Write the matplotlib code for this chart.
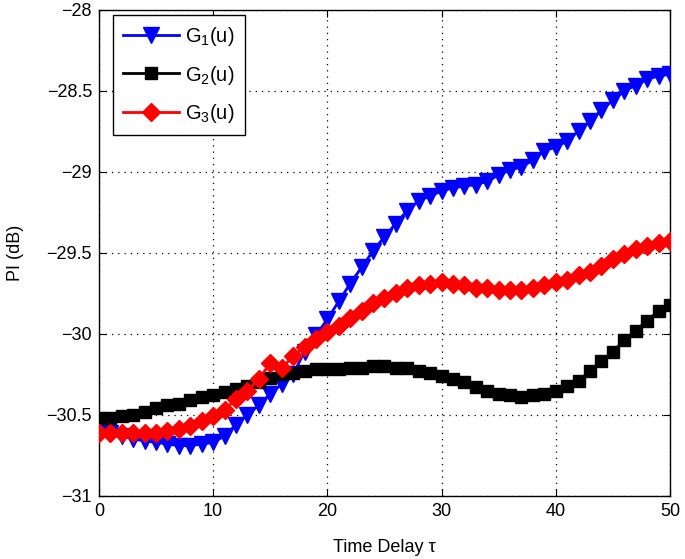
import matplotlib
matplotlib.use("Agg")
import matplotlib.pyplot as plt
import numpy as np

plt.rcParams['font.family'] = ['Liberation Sans', 'DejaVu Sans']
plt.rcParams['mathtext.fontset'] = 'custom'
plt.rcParams['mathtext.rm'] = 'Liberation Sans'
plt.rcParams['mathtext.it'] = 'Liberation Sans:italic'

tau = list(range(0, 51))

g1 = [-30.60, -30.61, -30.63, -30.65, -30.66, -30.67, -30.68, -30.69, -30.69, -30.68,
      -30.67, -30.63, -30.56, -30.50, -30.44, -30.37, -30.31, -30.25, -30.11, -30.01,
      -29.91, -29.80, -29.69, -29.59, -29.49, -29.40, -29.32, -29.24, -29.18, -29.15,
      -29.12, -29.10, -29.09, -29.08, -29.06, -29.02, -28.99, -28.97, -28.93, -28.87,
      -28.85, -28.81, -28.75, -28.69, -28.62, -28.56, -28.50, -28.47, -28.43, -28.41,
      -28.40]

g2 = [-30.52, -30.52, -30.51, -30.50, -30.48, -30.46, -30.44, -30.43, -30.41, -30.39,
      -30.38, -30.36, -30.34, -30.32, -30.30, -30.27, -30.25, -30.24, -30.23, -30.22,
      -30.22, -30.22, -30.21, -30.21, -30.20, -30.20, -30.21, -30.21, -30.23, -30.24,
      -30.26, -30.28, -30.30, -30.33, -30.35, -30.37, -30.38, -30.39, -30.38, -30.37,
      -30.35, -30.32, -30.29, -30.23, -30.17, -30.11, -30.04, -29.98, -29.92, -29.86,
      -29.82]

g3 = [-30.61, -30.61, -30.61, -30.61, -30.61, -30.61, -30.60, -30.59, -30.57, -30.54,
      -30.51, -30.47, -30.40, -30.35, -30.28, -30.18, -30.21, -30.14, -30.08, -30.03,
      -29.99, -29.95, -29.90, -29.86, -29.81, -29.78, -29.75, -29.72, -29.70, -29.69,
      -29.68, -29.69, -29.70, -29.72, -29.72, -29.73, -29.73, -29.73, -29.72, -29.70,
      -29.68, -29.67, -29.64, -29.62, -29.58, -29.54, -29.51, -29.48, -29.46, -29.44,
      -29.43]

labels = [r'G$_{\mathrm{1}}$(u)', r'G$_{\mathrm{2}}$(u)', r'G$_{\mathrm{3}}$(u)']
xticks = [0, 10, 20, 30, 40, 50]
yticks = [-31, -30.5, -30, -29.5, -29, -28.5, -28]
yticklabels = ['\u221231', '\u221230.5', '\u221230', '\u221229.5', '\u221229', '\u221228.5', '\u221228']

fig = plt.figure(figsize=(6.85, 5.59), dpi=100)
ax = fig.add_axes([0.1445, 0.1128, 0.8335, 0.8702])

ax.plot(tau, g1, color='#0000ff', lw=2, marker='v', ms=11, mfc='#0000ff', mec='#0000ff', label=labels[0], zorder=3)
ax.plot(tau, g2, color='black', lw=2, marker='s', ms=8, mfc='black', mec='black', label=labels[1], zorder=3)
ax.plot(tau, g3, color='#ff0000', lw=2, marker='D', ms=9, mfc='#ff0000', mec='#ff0000', label=labels[2], zorder=3)

ax.set_xlim(0, 50)
ax.set_ylim(-31, -28)
ax.set_xticks(xticks)
ax.set_yticks(yticks)
ax.set_yticklabels(yticklabels)
ax.tick_params(direction='in', top=True, right=True, labelsize=13, length=5, pad=5)
ax.grid(True, color='black', linestyle=(0, (1, 4)), linewidth=0.9)
for s in ax.spines.values():
    s.set_linewidth(1.0)

ax.set_xlabel('Time Delay \u03c4', fontsize=13, labelpad=14)
ax.set_ylabel('PI (dB)', fontsize=13, labelpad=16)

leg = ax.legend(loc='upper left', fontsize=14.5, fancybox=False, framealpha=1,
                edgecolor='black', handlelength=2.8, borderpad=0.5, labelspacing=0.75,
                handletextpad=0.3, borderaxespad=0, bbox_to_anchor=(0.024, 0.988))
leg.get_frame().set_linewidth(1.0)

fig.savefig('out.png', dpi=100)
